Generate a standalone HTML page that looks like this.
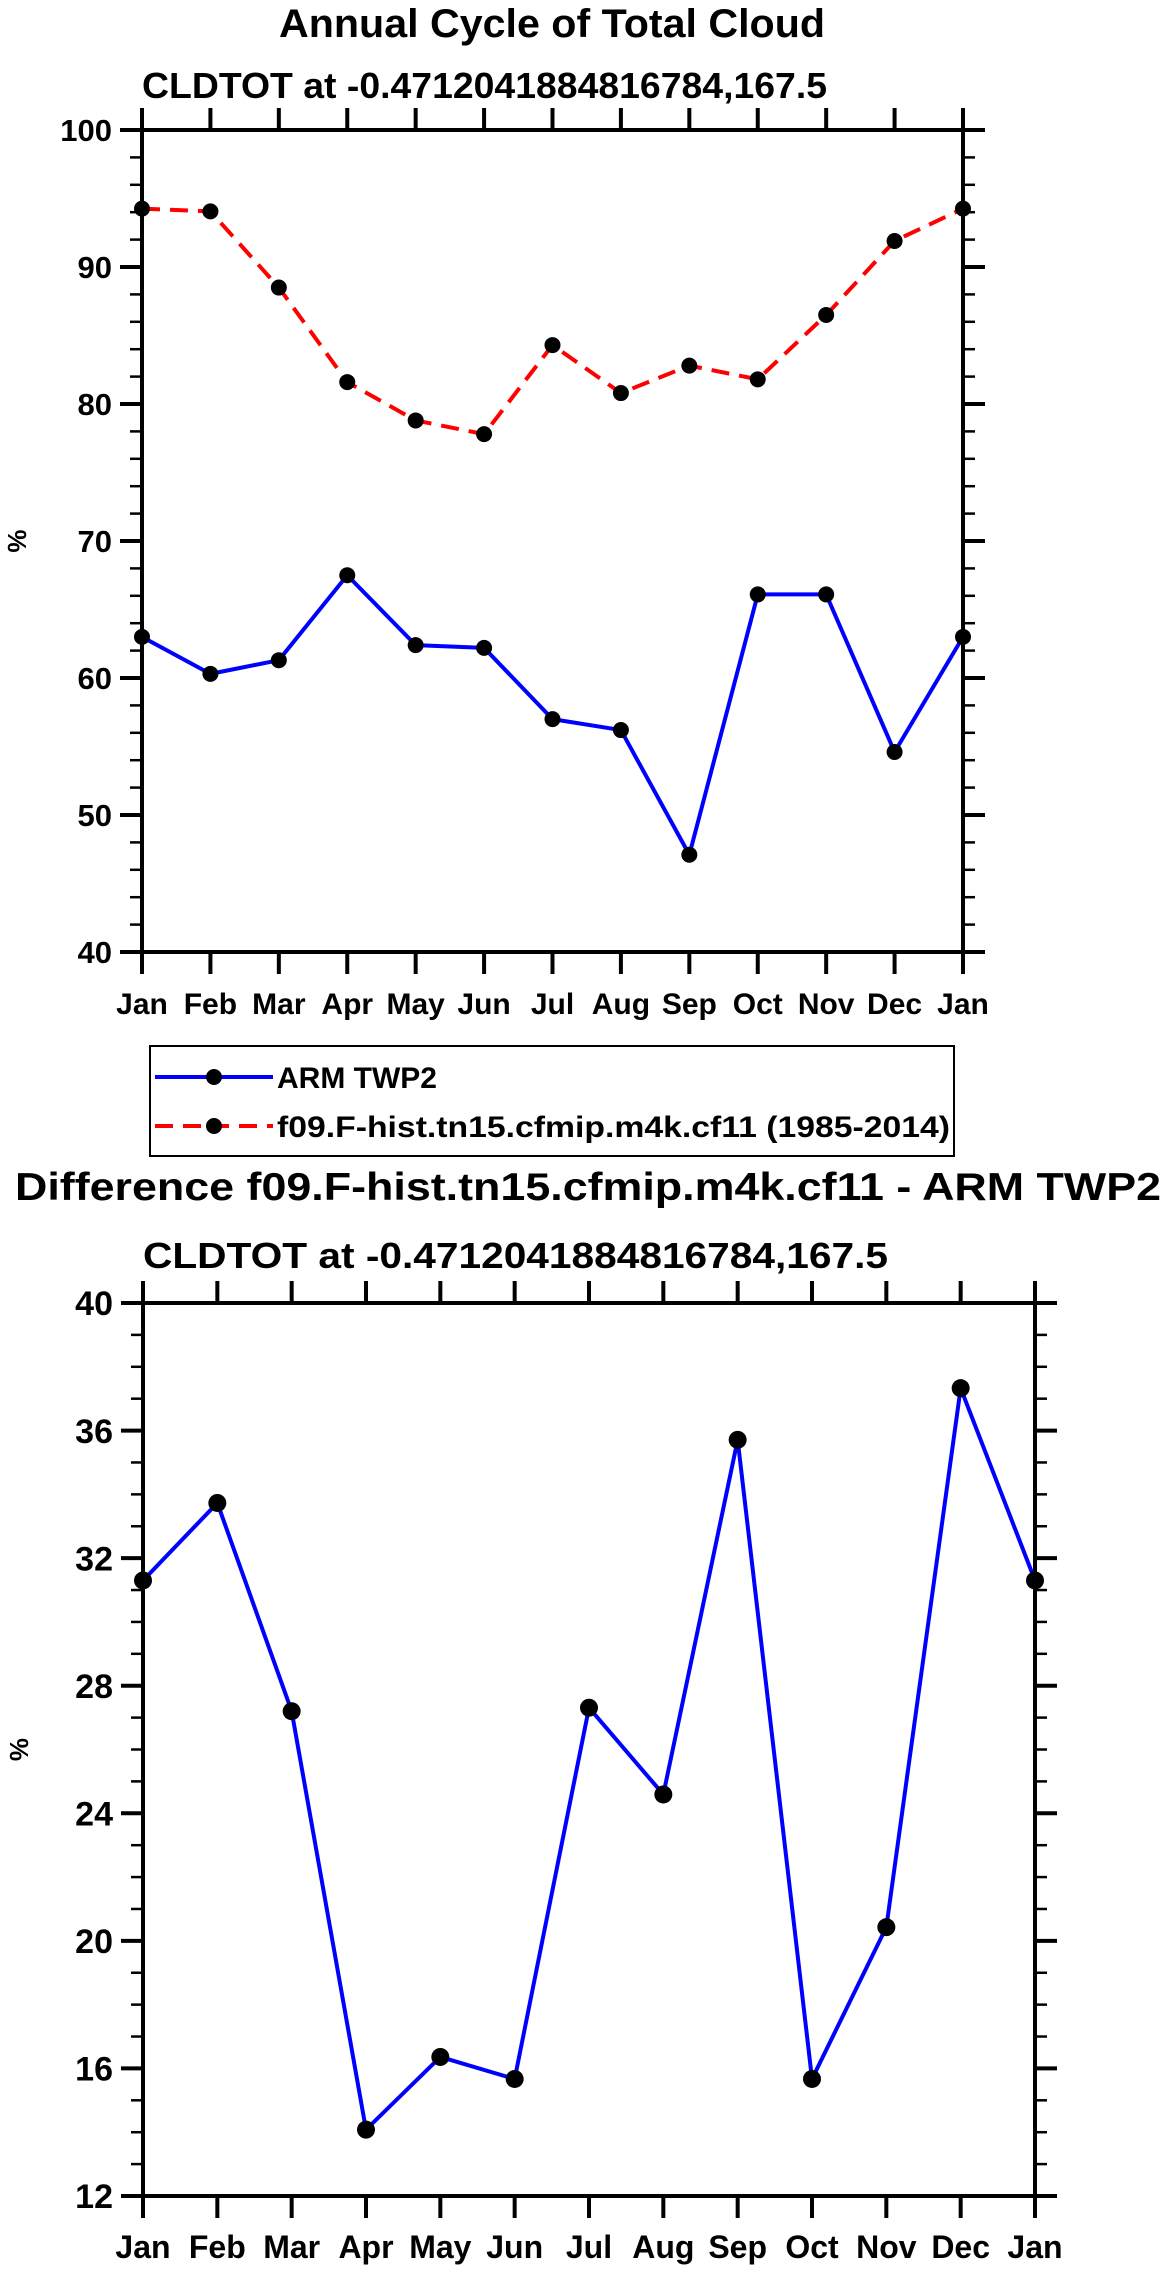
<!DOCTYPE html>
<html><head><meta charset="utf-8"><style>
html,body{margin:0;padding:0;background:#fff;}
svg{display:block;font-family:"Liberation Sans",Arial,sans-serif;font-weight:bold;}
</style></head><body>
<svg id="chart" width="1167" height="2276" viewBox="0 0 1167 2276" xmlns="http://www.w3.org/2000/svg">
<text x="552" y="37" font-size="40" text-anchor="middle" textLength="546" lengthAdjust="spacingAndGlyphs">Annual Cycle of Total Cloud</text>
<text x="142" y="98" font-size="36" textLength="685" lengthAdjust="spacingAndGlyphs">CLDTOT at -0.4712041884816784,167.5</text>
<g id="top"></g>
<g>
<rect x="150" y="1046" width="804" height="110" fill="none" stroke="#000" stroke-width="2"/>
<g>
<line x1="155" y1="1077" x2="273" y2="1077" stroke="#0000ff" stroke-width="4"/>
<circle cx="214" cy="1077" r="8" fill="#000"/>
<text x="277" y="1088" font-size="30">ARM TWP2</text>
</g>
<g>
<line x1="155" y1="1126" x2="273" y2="1126" stroke="#ff0000" stroke-width="4" stroke-dasharray="18,10"/>
<circle cx="214" cy="1126" r="8" fill="#000"/>
<text x="277" y="1137" font-size="30" textLength="673" lengthAdjust="spacingAndGlyphs">f09.F-hist.tn15.cfmip.m4k.cf11 (1985-2014)</text>
</g>
</g>
<text x="15" y="1200" font-size="39" textLength="1146" lengthAdjust="spacingAndGlyphs">Difference f09.F-hist.tn15.cfmip.m4k.cf11 - ARM TWP2</text>
<text x="143" y="1268" font-size="36" textLength="745" lengthAdjust="spacingAndGlyphs">CLDTOT at -0.4712041884816784,167.5</text>
<g id="bot"></g>
</svg>
<script>
const months = ["Jan","Feb","Mar","Apr","May","Jun","Jul","Aug","Sep","Oct","Nov","Dec","Jan"];
const armValues = [63.0,60.3,61.3,67.5,62.4,62.2,57.0,56.2,47.1,66.1,66.1,54.6,63.0];
const modelValues = [94.26,94.06,88.5,81.6,78.8,77.8,84.3,80.8,82.8,81.8,86.5,91.9,94.26];
const diffValues = [31.3,33.73,27.2,14.08,16.36,15.67,27.31,24.59,35.71,15.67,20.43,37.33,31.3];
const topYTicks = [40,50,60,70,80,90,100];
const botYTicks = [12,16,20,24,28,32,36,40];

const NS="http://www.w3.org/2000/svg";
function mk(parent,tag,attrs){const e=document.createElementNS(NS,tag);for(const k in attrs)e.setAttribute(k,attrs[k]);parent.appendChild(e);return e;}

function plot(g,cfg){
  const {x0,x1,y0,y1,ymin,ymax,yticks,minorStep,fs,lfs,series,r,pctX}=cfg;
  const xs=i=>x0+(x1-x0)*i/(months.length-1);
  const ys=v=>y1-(v-ymin)/(ymax-ymin)*(y1-y0);
  for(let v=ymin;v<=ymax+1e-9;v+=minorStep){
    const y=ys(v);
    const t=mk(g,'line',{x1:x0-12,y1:y,x2:x0,y2:y,stroke:'#000','stroke-width':2.5});
    
    
    const t2=mk(g,'line',{x1:x1,y1:y,x2:x1+12,y2:y,stroke:'#000','stroke-width':2.5});
    
    
  }
  yticks.forEach(v=>{
    const y=ys(v);
    const t=mk(g,'line',{x1:x0-22,y1:y,x2:x0,y2:y,stroke:'#000','stroke-width':4});
    
    
    const t2=mk(g,'line',{x1:x1,y1:y,x2:x1+22,y2:y,stroke:'#000','stroke-width':4});
    
    
    const l=mk(g,'text',{x:x0-30,y:y+fs*0.36,'font-size':fs,'text-anchor':'end'});
    l.textContent=v;
    
    
  });
  months.forEach((m,i)=>{
    const x=xs(i);
    const t=mk(g,'line',{x1:x,y1:y0-22,x2:x,y2:y0,stroke:'#000','stroke-width':4});
    
    
    const t2=mk(g,'line',{x1:x,y1:y1,x2:x,y2:y1+22,stroke:'#000','stroke-width':4});
    
    
    const l=mk(g,'text',{x:x,y:y1+62,'font-size':lfs,'text-anchor':'middle'});
    l.textContent=m;
    
    
  });
  const fr=mk(g,'rect',{x:x0,y:y0,width:x1-x0,height:y1-y0,fill:'none',stroke:'#000','stroke-width':4});
  
  
  const yl=mk(g,'text',{x:0,y:0,'font-size':26,'text-anchor':'middle',transform:`translate(${pctX},${(y0+y1)/2}) rotate(-90)`});
  yl.textContent='%';
  
  
  series.forEach(s=>{
    const pts=s.values.map((v,i)=>xs(i)+','+ys(v)).join(' ');
    const pl=mk(g,'polyline',{points:pts,fill:'none',stroke:s.color,'stroke-width':4,'stroke-dasharray':s.dash||'none','stroke-linejoin':'round'});
    
    
    s.values.forEach((v,i)=>{
      const c=mk(g,'circle',{cx:xs(i),cy:ys(v),r:r,fill:'#000'});
      
      
    });
  });
}
plot(document.getElementById('top'),{x0:142,x1:963,y0:130,y1:952,ymin:40,ymax:100,yticks:topYTicks,minorStep:2,fs:31,lfs:30,r:8,pctX:26,
  series:[{name:'model',values:modelValues,color:'#ff0000',dash:'18,10'},{name:'arm',values:armValues,color:'#0000ff'}]});
plot(document.getElementById('bot'),{x0:143,x1:1035,y0:1303,y1:2196,ymin:12,ymax:40,yticks:botYTicks,minorStep:1,fs:34,lfs:32,r:9,pctX:28,
  series:[{name:'difference',values:diffValues,color:'#0000ff'}]});
</script>
</body></html>
